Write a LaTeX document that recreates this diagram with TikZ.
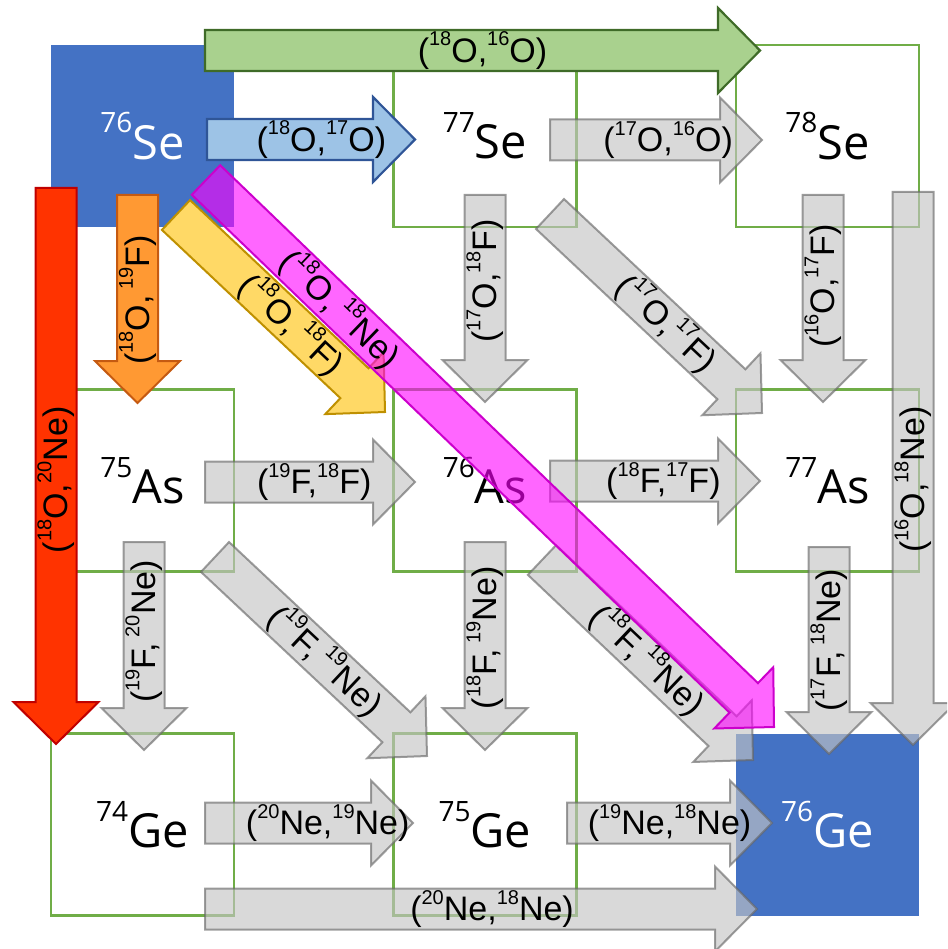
\documentclass[tikz,border=0pt]{standalone}
\usepackage{fontspec}
\setmainfont{Liberation Sans}
\newfontfamily\nucfont{Open Sans}
\usepackage{graphicx}
\usetikzlibrary{calc}

\definecolor{boxgreen}{HTML}{70AD47}
\definecolor{boxblue}{HTML}{4472C4}
\definecolor{arrgray}{HTML}{C4C4C4}
\definecolor{arrgrayline}{HTML}{666666}
\definecolor{arrgreen}{HTML}{A9D18E}
\definecolor{arrgreenline}{HTML}{3F6B28}
\definecolor{arrblue}{HTML}{9DC3E6}
\definecolor{arrblueline}{HTML}{2F5597}
\definecolor{arrred}{HTML}{FF3300}
\definecolor{arrredline}{HTML}{C00000}
\definecolor{arrorange}{HTML}{FF9933}
\definecolor{arrorangeline}{HTML}{C55A11}
\definecolor{arryellow}{HTML}{FFD966}
\definecolor{arryellowline}{HTML}{BF9000}
\definecolor{arrmag}{HTML}{FF00FF}
\definecolor{arrmagline}{HTML}{CC00CC}

% fonts of the nuclide names and of the reaction labels
\newcommand\nucsize{\nucfont\fontsize{47pt}{47pt}\selectfont}
\newcommand\lblsize{\fontsize{34pt}{34pt}\selectfont}
\newcommand\nsup[1]{\raisebox{0.56em}{\fontsize{28pt}{28pt}\selectfont #1}}
\newcommand\nuc[2]{\nsup{#1}#2}
\newcommand\lsup[1]{\raisebox{0.48em}{\fontsize{20pt}{20pt}\selectfont #1}}
\newcommand\iso[2]{\lsup{#1}#2}

% block arrow from tail centre #2 to tip #3
\newcommand\shaftw{20.5pt}
\newcommand\headw{42.5pt}
\newcommand\headlen{42pt}
\newcommand\blockarrow[3]{%
  \coordinate (ah) at ($(#3)!\headlen!(#2)$);
  \path[#1] ($(#2)!\shaftw!90:(#3)$) -- ($(ah)!\shaftw!90:(#3)$)
    -- ($(ah)!\headw!90:(#3)$) -- (#3) -- ($(ah)!\headw!-90:(#3)$)
    -- ($(ah)!\shaftw!-90:(#3)$) -- ($(#2)!\shaftw!-90:(#3)$) -- cycle;
}

\begin{document}
\begin{tikzpicture}[x=1pt,y=-1pt,
  sq/.style={draw=boxgreen, line width=2.2pt, minimum width=183pt,
    minimum height=182pt, inner sep=0pt, font=\nucsize},
  bsq/.style={fill=boxblue, minimum width=183pt, minimum height=182pt,
    inner sep=0pt, text=white, font=\nucsize},
  grayarr/.style={fill=arrgray, draw=arrgrayline, line width=2pt, opacity=0.64},
  greenarr/.style={fill=arrgreen, draw=arrgreenline, line width=2.2pt},
  bluearr/.style={fill=arrblue, draw=arrblueline, line width=2.2pt},
  redarr/.style={fill=arrred, draw=arrredline, line width=2pt},
  orangearr/.style={fill=arrorange, draw=arrorangeline, line width=2pt},
  yellowarr/.style={fill=arryellow, draw=arryellowline, line width=2pt},
  magarr/.style={fill=arrmag, fill opacity=0.6, draw=arrmagline, line width=2pt},
  lbl/.style={font=\lblsize, inner sep=0pt},
]
\useasboundingbox (0,0) rectangle (947,949);
\clip (0,0) rectangle (947,949);

% nuclide chart cells
\node[bsq] (se76) at (142.5,136) {\nuc{76}{Se}};
\node[sq]  (se77) at (485,136)   {\nuc{77}{Se}};
\node[sq]  (se78) at (827.5,136) {\nuc{78}{Se}};
\node[sq]  (as75) at (142.5,480.5) {\nuc{75}{As}};
\node[sq]  (as76) at (485,480.5)   {\nuc{76}{As}};
\node[sq]  (as77) at (827.5,480.5) {\nuc{77}{As}};
\node[sq]  (ge74) at (142.5,824.5) {\nuc{74}{Ge}};
\node[sq]  (ge75) at (485,824.5)   {\nuc{75}{Ge}};
\node[bsq] (ge76) at (827.5,824.5) {\nuc{76}{Ge}};

% arrow ends
\coordinate (a1s) at (205,50.5);  \coordinate (a1e) at (760,50.5);
\coordinate (a2s) at (207,139.5); \coordinate (a2e) at (415,139.5);
\coordinate (a3s) at (550,140);   \coordinate (a3e) at (762,140);
\coordinate (a4s) at (56,188);    \coordinate (a4e) at (56,744);
\coordinate (a5s) at (137.5,195); \coordinate (a5e) at (137.5,403);
\coordinate (a6s) at (176,215);   \coordinate (a6e) at (385,412);
\coordinate (a7s) at (206,180);   \coordinate (a7e) at (774,727);
\coordinate (a8s) at (485,195);   \coordinate (a8e) at (485,402);
\coordinate (a9s) at (550,214);   \coordinate (a9e) at (762,413);
\coordinate (a10s) at (823,195);  \coordinate (a10e) at (823,402);
\coordinate (a11s) at (913,192);  \coordinate (a11e) at (913,745);
\coordinate (a12s) at (205,482);  \coordinate (a12e) at (415,482);
\coordinate (a13s) at (550,481);  \coordinate (a13e) at (760,481);
\coordinate (a14s) at (144,542);  \coordinate (a14e) at (144,750);
\coordinate (a15s) at (215,557);  \coordinate (a15e) at (427,756);
\coordinate (a16s) at (485,542);  \coordinate (a16e) at (485,750);
\coordinate (a17s) at (542,560);  \coordinate (a17e) at (753,760);
\coordinate (a18s) at (829,547);  \coordinate (a18e) at (829,754);
\coordinate (a19s) at (205,823);  \coordinate (a19e) at (413,823);
\coordinate (a20s) at (567,823);  \coordinate (a20e) at (772,823);
\coordinate (a21s) at (205,909);  \coordinate (a21e) at (757,909);

% grey reaction arrows
\blockarrow{grayarr}{a3s}{a3e}
\blockarrow{grayarr}{a8s}{a8e}
\blockarrow{grayarr}{a9s}{a9e}
\blockarrow{grayarr}{a10s}{a10e}
\blockarrow{grayarr}{a11s}{a11e}
\blockarrow{grayarr}{a12s}{a12e}
\blockarrow{grayarr}{a13s}{a13e}
\blockarrow{grayarr}{a14s}{a14e}
\blockarrow{grayarr}{a15s}{a15e}
\blockarrow{grayarr}{a16s}{a16e}
\blockarrow{grayarr}{a17s}{a17e}
\blockarrow{grayarr}{a18s}{a18e}
\blockarrow{grayarr}{a19s}{a19e}
\blockarrow{grayarr}{a20s}{a20e}
\blockarrow{grayarr}{a21s}{a21e}

% coloured reaction arrows from 76Se
\blockarrow{greenarr}{a1s}{a1e}
\blockarrow{bluearr}{a2s}{a2e}
\blockarrow{redarr}{a4s}{a4e}
\blockarrow{orangearr}{a5s}{a5e}
\blockarrow{yellowarr}{a6s}{a6e}
\blockarrow{magarr}{a7s}{a7e}

% reaction labels
\path (a1s) -- (a1e) node[lbl, pos=0.50] {(\iso{18}{O},\iso{16}{O})};
\path (a2s) -- (a2e) node[lbl, pos=0.55] {(\iso{18}{O},\iso{17}{O})};
\path (a3s) -- (a3e) node[lbl, pos=0.557] {(\iso{17}{O},\iso{16}{O})};
\path (a4s) -- (a4e) node[lbl, pos=0.525, rotate=90] {(\iso{18}{O},\iso{20}{Ne})};
\path (a5s) -- (a5e) node[lbl, pos=0.505, rotate=90] {(\iso{18}{O},\,\iso{19}{F})};
\path (a6s) -- (a6e) node[lbl, pos=0.555, sloped] {(\iso{18}{O},\,\iso{18}{F})};
\path (a7s) -- (a7e) node[lbl, pos=0.236, sloped] {(\iso{18}{O},\,\iso{18}{Ne})};
\path (a8s) -- (a8e) node[lbl, pos=0.415, rotate=90] {(\iso{17}{O},\iso{18}{F})};
\path (a9s) -- (a9e) node[lbl, pos=0.55, sloped] {(\iso{17}{O},\iso{17}{F})};
\path (a10s) -- (a10e) node[lbl, pos=0.44, rotate=90] {(\iso{16}{O},\iso{17}{F})};
\path (a11s) -- (a11e) node[lbl, pos=0.52, rotate=90] {(\iso{16}{O},\iso{18}{Ne})};
\path (a12s) -- (a12e) node[lbl, pos=0.52] {(\iso{19}{F},\iso{18}{F})};
\path (a13s) -- (a13e) node[lbl, pos=0.54] {(\iso{18}{F},\iso{17}{F})};
\path (a14s) -- (a14e) node[lbl, pos=0.43, rotate=90] {(\iso{19}{F},\,\iso{20}{Ne})};
\path (a15s) -- (a15e) node[lbl, pos=0.52, sloped] {(\iso{19}{F},\,\iso{19}{Ne})};
\path (a16s) -- (a16e) node[lbl, pos=0.46, rotate=90] {(\iso{18}{F},\,\iso{19}{Ne})};
\path (a17s) -- (a17e) node[lbl, pos=0.50, sloped] {(\iso{18}{F},\,\iso{18}{Ne})};
\path (a18s) -- (a18e) node[lbl, pos=0.45, rotate=90] {(\iso{17}{F},\,\iso{18}{Ne})};
\path (a19s) -- (a19e) node[lbl, pos=0.59] {(\iso{20}{Ne},\iso{19}{Ne})};
\path (a20s) -- (a20e) node[lbl, pos=0.50] {(\iso{19}{Ne},\iso{18}{Ne})};
\path (a21s) -- (a21e) node[lbl, pos=0.52] {(\iso{20}{Ne},\iso{18}{Ne})};
\end{tikzpicture}
\end{document}
